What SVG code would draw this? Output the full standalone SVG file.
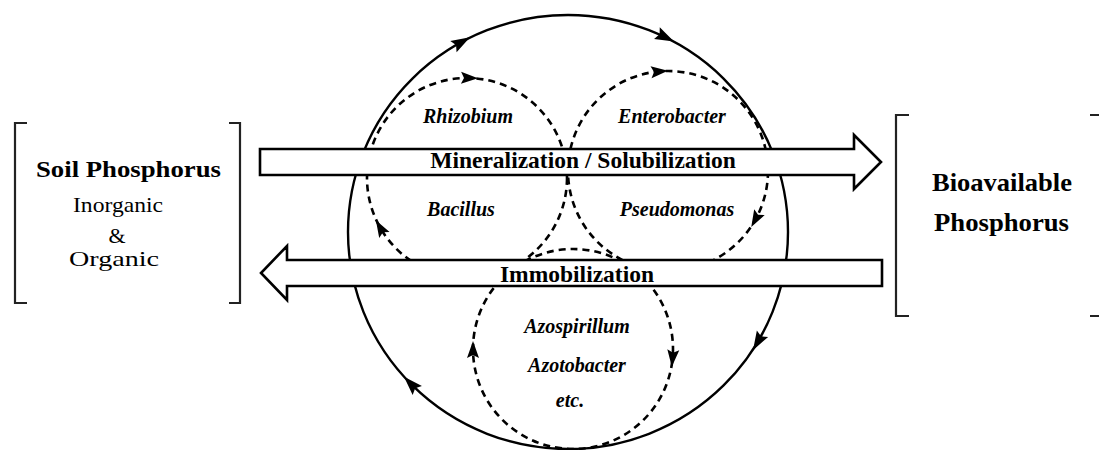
<svg xmlns="http://www.w3.org/2000/svg" width="1099" height="450" viewBox="0 0 1099 450">
<style>
.bg{fill:#fff}
.brk{fill:none;stroke:#222;stroke-width:2.2}
.solid{fill:none;stroke:#000;stroke-width:2.4}
.dash{fill:none;stroke:#000;stroke-width:2.6;stroke-dasharray:7 5}
.big{fill:#fff;stroke:#000;stroke-width:2.6;stroke-linejoin:miter}
text{font-family:"Liberation Serif","Times New Roman",serif;fill:#000;text-anchor:middle}
.b{font-weight:bold}
.bi{font-weight:bold;font-style:italic;font-size:20px}
.lbl{font-weight:bold;font-size:23.5px}
</style>
<defs>
<polygon id="ah" points="10,0 -9,-6.5 -6,0 -9,6.5"/>
<polygon id="ahd" points="9,0 -8,-6 -5,0 -8,6"/>
</defs>
<rect class="bg" x="0" y="0" width="1099" height="450"/>

<g id="soil-phosphorus">
<path class="brk" d="M27,123 H15 V303 H27"/>
<path class="brk" d="M229,123 H240 V303 H229"/>
<text class="b" x="128.5" y="177" font-size="24" textLength="185" lengthAdjust="spacingAndGlyphs">Soil Phosphorus</text>
<text x="118" y="212" font-size="22" textLength="90" lengthAdjust="spacingAndGlyphs">Inorganic</text>
<text x="117" y="243" font-size="22">&amp;</text>
<text x="114" y="266" font-size="22" textLength="90" lengthAdjust="spacingAndGlyphs">Organic</text>
</g>

<g id="bioavailable-phosphorus">
<path class="brk" d="M909,115 H896 V316 H909"/>
<path class="brk" d="M1090,115 H1100 M1090,316 H1100"/>
<text class="b" x="1002" y="191" font-size="25" textLength="140" lengthAdjust="spacingAndGlyphs">Bioavailable</text>
<text class="b" x="1001.5" y="231" font-size="25" textLength="135" lengthAdjust="spacingAndGlyphs">Phosphorus</text>
</g>

<g id="cycle">
<ellipse class="solid" cx="568" cy="232" rx="220" ry="217"/>
<use href="#ah" transform="translate(461.3,42.2) rotate(-29)"/>
<use href="#ah" transform="translate(665,37) rotate(26)"/>
<use href="#ah" transform="translate(758,341.5) rotate(120)"/>
<use href="#ah" transform="translate(411,384) rotate(225.6)"/>
</g>

<g id="circle-rhizobium-bacillus">
<circle class="dash" cx="467" cy="178" r="100"/>
<use href="#ahd" transform="translate(469,78) rotate(1)"/>
<use href="#ahd" transform="translate(380.4,228) rotate(240)"/>
</g>

<g id="circle-enterobacter-pseudomonas">
<circle class="dash" cx="668" cy="171" r="100"/>
<use href="#ahd" transform="translate(659,71.5) rotate(-5)"/>
<use href="#ahd" transform="translate(755.6,219.2) rotate(118.8)"/>
</g>

<g id="circle-azospirillum">
<circle class="dash" cx="573" cy="349" r="100"/>
<use href="#ahd" transform="translate(473,350) rotate(270)"/>
<use href="#ahd" transform="translate(672.6,357.7) rotate(95)"/>
</g>

<g id="connectors">
<path id="mineralization-arrow" class="big" d="M260,149 H854 V135 L881,162 L854,189 V175 H260 Z"/>
<path id="immobilization-arrow" class="big" d="M882,260 H287 V246 L261,273 L287,300 V286 H882 Z"/>
<text class="lbl" x="583" y="168">Mineralization / Solubilization</text>
<text class="lbl" x="577" y="282">Immobilization</text>
</g>

<g id="labels">
<text class="bi" x="468" y="123">Rhizobium</text>
<text class="bi" x="672" y="123">Enterobacter</text>
<text class="bi" x="461" y="216">Bacillus</text>
<text class="bi" x="677" y="216">Pseudomonas</text>
<text class="bi" x="577" y="333">Azospirillum</text>
<text class="bi" x="577" y="372">Azotobacter</text>
<text class="bi" x="570" y="407">etc.</text>
</g>
</svg>
